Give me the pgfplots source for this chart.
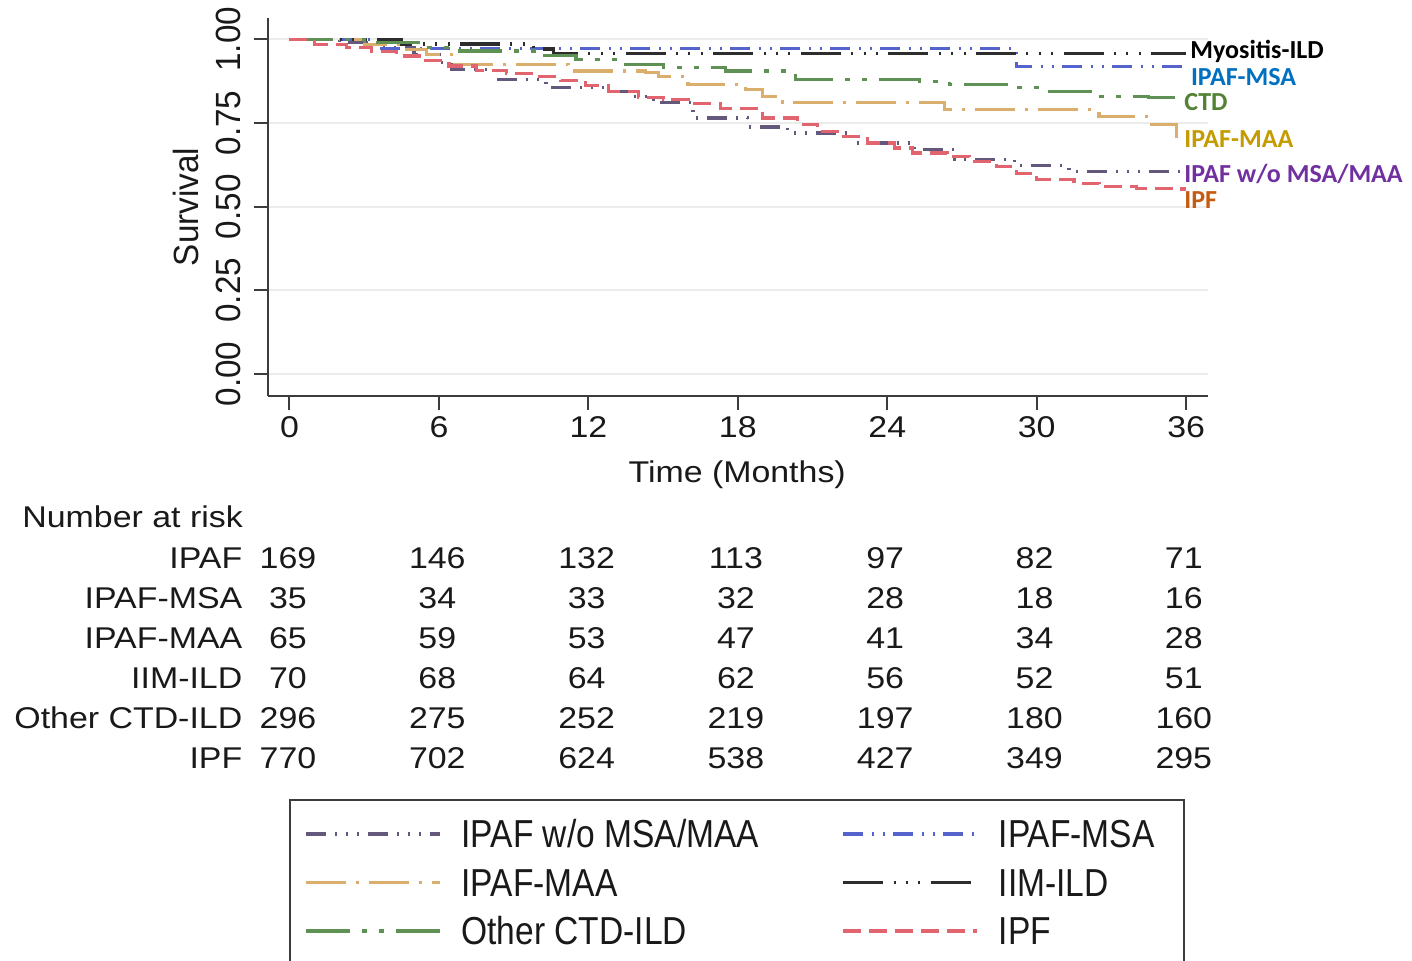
\documentclass[border=0pt]{standalone}
\usepackage{pgfplots}
\pgfplotsset{compat=1.18}
\usepackage{fontspec}
\setmainfont{Liberation Sans}[FakeStretch=1.13]
\newfontfamily\legfam{Liberation Sans}[FakeStretch=0.86]
\newfontfamily\rotfam{Liberation Sans}[FakeStretch=0.95]
\newfontfamily\calfam{Carlito}
\definecolor{cPur}{RGB}{100,88,125}
\definecolor{cBlu}{RGB}{85,100,205}
\definecolor{cTan}{RGB}{218,175,110}
\definecolor{cBlk}{RGB}{45,45,45}
\definecolor{cGrn}{RGB}{95,145,85}
\definecolor{cRed}{RGB}{226,100,110}
\definecolor{axc}{RGB}{60,60,60}
\definecolor{txt}{RGB}{25,25,25}
\definecolor{gridc}{RGB}{236,236,236}
\definecolor{lMyo}{RGB}{0,0,0}
\definecolor{lMSA}{RGB}{0,112,192}
\definecolor{lCTD}{RGB}{84,130,53}
\definecolor{lMAA}{RGB}{196,155,0}
\definecolor{lWO}{RGB}{112,48,160}
\definecolor{lIPF}{RGB}{197,90,17}
\newcommand{\mainf}{\fontsize{15bp}{18bp}\selectfont}
\newcommand{\rotf}{\rotfam\fontsize{17.5bp}{20bp}\selectfont}
\newcommand{\legf}{\legfam\fontsize{19.5bp}{22bp}\selectfont}
\newcommand{\labf}{\calfam\bfseries\fontsize{13bp}{15bp}\selectfont}
\begin{document}
\begin{tikzpicture}
\path[use as bounding box] (0,0) rectangle (706bp,480.5bp);
\begin{axis}[
  at={(134.15bp,282.65bp)}, anchor=south west,
  scale only axis, width=470bp, height=188.7bp,
  xmin=-0.851, xmax=36.89, ymin=-0.0648, ymax=1.0627,
  axis x line*=bottom, axis y line*=left,
  axis line style={-, axc, line width=1bp},
  tick align=outside, major tick length=7bp,
  tick style={axc, line width=1bp},
  xtick={0,6,12,18,24,30,36}, ytick={0,0.25,0.5,0.75,1},
  /pgf/number format/assume math mode=true,
  yticklabel={\pgfmathprintnumber[fixed,fixed zerofill,precision=2]{\tick}},
  xticklabel style={font=\mainf, text=txt},
  yticklabel style={rotate=90, anchor=south, inner sep=6.5bp, font=\rotf, text=txt},
  ymajorgrids, grid style={line width=1bp, gridc},
  xlabel={Time (Months)}, ylabel={Survival},
  every axis x label/.style={at={(axis description cs:0.4988,-0.2101)}, anchor=center, font=\mainf, text=txt},
  every axis y label/.style={at={(axis description cs:-0.0876,0.5)}, rotate=90, anchor=center, font=\rotf, text=txt},
  legend columns=2,
  legend cell align=left,
  legend style={at={(axis description cs:0.02235,-1.0686)}, anchor=north west,
    draw=axc, line width=1bp, fill=white,
    inner xsep=7bp, inner ysep=9bp,
    column sep=10bp, row sep=8.25bp,
    font=\legf, text=txt,
    nodes={inner sep=0pt, text height=15bp, text depth=1bp}},
  legend image code/.code={\draw[#1] (0bp,0bp) -- (67bp,0bp);},
]
\addplot[cPur, line width=1.6bp, const plot, dash pattern=on 10bp off 4.5bp on 1bp off 4.5bp on 1bp off 4.5bp on 1bp off 4.5bp] coordinates {
(0,1) (2,0.99) (3.5,0.975) (5,0.955) (6,0.93) (6.5,0.91) (8.3,0.88) (10.3,0.856) (12.8,0.845) (13.8,0.83) (14.6,0.81) (16.2,0.765) (18.4,0.738) (20,0.72) (22.6,0.69) (25.1,0.67) (26.7,0.64) (29.1,0.622) (31.3,0.605) (36,0.605)};
\addlegendentry{\makebox[180bp][l]{IPAF w/o MSA/MAA}}
\addplot[cBlu, line width=1.6bp, const plot, dash pattern=on 10bp off 4.5bp on 1bp off 4.5bp on 1bp off 4bp] coordinates {
(0,1) (3.6,0.972) (29.2,0.918) (36,0.918)};
\addlegendentry{\makebox[85.5bp][l]{IPAF-MSA}}
\addplot[cTan, line width=1.6bp, const plot, dash pattern=on 20bp off 5bp on 1.5bp off 5bp] coordinates {
(0,1) (3,0.985) (4.5,0.97) (5.5,0.955) (6.5,0.925) (11.2,0.905) (14.3,0.9) (14.8,0.89) (16,0.865) (18.3,0.85) (19,0.83) (19.8,0.81) (26.3,0.79) (32.5,0.77) (34.6,0.745) (35.6,0.705) (36,0.705)};
\addlegendentry{\makebox[180bp][l]{IPAF-MAA}}
\addplot[cBlk, line width=1.6bp, const plot, dash pattern=on 20bp off 5.2bp on 1bp off 5.2bp on 1bp off 5.2bp on 1bp off 5.2bp] coordinates {
(0,1) (4.5,0.986) (9.8,0.971) (10.6,0.957) (36,0.957)};
\addlegendentry{\makebox[85.5bp][l]{IIM-ILD}}
\addplot[cGrn, line width=1.6bp, const plot, dash pattern=on 22bp off 6bp on 2.5bp off 6bp on 2.5bp off 6bp] coordinates {
(0,1) (3,0.99) (5.5,0.975) (6.5,0.965) (10,0.952) (11.5,0.94) (13.5,0.925) (15,0.915) (17.5,0.905) (20.3,0.88) (25.3,0.873) (26.5,0.865) (28.8,0.855) (30.4,0.845) (32.3,0.83) (34.5,0.825) (36,0.825)};
\addlegendentry{\makebox[180bp][l]{Other CTD-ILD}}
\addplot[cRed, line width=1.6bp, const plot, dash pattern=on 9bp off 4bp] coordinates {
(0,1) (1,0.985) (2.3,0.976) (3.3,0.963) (4.3,0.95) (5.4,0.937) (6.4,0.92) (7.5,0.907) (8.7,0.898) (9.8,0.889) (10.9,0.877) (11.9,0.862) (12.8,0.845) (14,0.826) (15,0.82) (16,0.808) (17.3,0.793) (19,0.765) (20.4,0.745) (21.2,0.725) (22.2,0.71) (23.2,0.69) (24.3,0.675) (25,0.66) (26.4,0.65) (27.3,0.635) (28.4,0.62) (29.2,0.6) (30,0.58) (31.5,0.57) (32.5,0.56) (34,0.555) (35.5,0.553) (36,0.553)};
\addlegendentry{\makebox[85.5bp][l]{IPF}}
\end{axis}
% right-hand labels
\begin{scope}[every node/.style={inner sep=0pt, anchor=base west, font=\labf}]
\node[text=lMyo] at (595bp,451.35bp) {Myositis-ILD};
\node[text=lMSA] at (595.3bp,437.5bp) {IPAF-MSA};
\node[text=lCTD] at (592bp,425bp) {CTD};
\node[text=lMAA] at (592bp,406.85bp) {IPAF-MAA};
\node[text=lWO] at (592bp,389.2bp) {IPAF w/o MSA/MAA};
\node[text=lIPF] at (592bp,376.4bp) {IPF};
\end{scope}
% number at risk table
\begin{scope}[every node/.style={inner sep=0pt, font=\mainf, text=txt}]
\node[anchor=base west] at (11bp,216.65bp) {Number at risk};
\node[anchor=base east] at (121.35bp,196.35bp) {IPAF};
\node[anchor=base east] at (121.35bp,176.35bp) {IPAF-MSA};
\node[anchor=base east] at (121.35bp,156.35bp) {IPAF-MAA};
\node[anchor=base east] at (121.35bp,136.35bp) {IIM-ILD};
\node[anchor=base east] at (121.35bp,116.35bp) {Other CTD-ILD};
\node[anchor=base east] at (121.35bp,96.35bp) {IPF};
\foreach \v [count=\i from 0] in {169,146,132,113,97,82,71}
  \node[anchor=base] at ({144bp+74.65bp*\i},196.35bp) {\v};
\foreach \v [count=\i from 0] in {35,34,33,32,28,18,16}
  \node[anchor=base] at ({144bp+74.65bp*\i},176.35bp) {\v};
\foreach \v [count=\i from 0] in {65,59,53,47,41,34,28}
  \node[anchor=base] at ({144bp+74.65bp*\i},156.35bp) {\v};
\foreach \v [count=\i from 0] in {70,68,64,62,56,52,51}
  \node[anchor=base] at ({144bp+74.65bp*\i},136.35bp) {\v};
\foreach \v [count=\i from 0] in {296,275,252,219,197,180,160}
  \node[anchor=base] at ({144bp+74.65bp*\i},116.35bp) {\v};
\foreach \v [count=\i from 0] in {770,702,624,538,427,349,295}
  \node[anchor=base] at ({144bp+74.65bp*\i},96.35bp) {\v};
\end{scope}
\end{tikzpicture}
\end{document}
